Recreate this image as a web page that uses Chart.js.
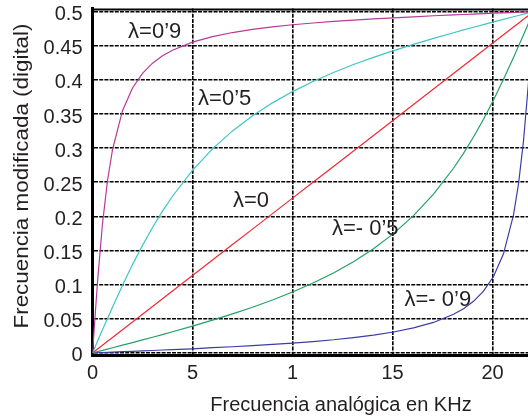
<!DOCTYPE html>
<html>
<head>
<meta charset="utf-8">
<script src="https://cdn.jsdelivr.net/npm/chart.js@4.4.1/dist/chart.umd.min.js"></script>
<style>
  html, body { margin: 0; padding: 0; background: #fff; overflow: hidden; }
  #wrap { width: 528px; height: 419px; overflow: hidden; }
  canvas { display: block; }
</style>
</head>
<body>
<div id="wrap"><canvas id="c" width="536" height="419"></canvas></div>
<script>
// Analog frequency axis (kHz)
const khz = [0, 0.25, 0.5, 0.75, 1, 1.5, 2, 2.5, 3, 3.5, 4, 5, 6, 7, 8, 9, 10, 11.025,
  12.05, 13.05, 14.05, 15.05, 16.05, 17.05, 18.05, 18.55, 19.05, 19.55, 20.05, 20.55, 21.05, 21.3, 21.55, 21.8, 22.05];

// Warped digital frequency for each lambda
const lambdaP09 = [0, 0.1039, 0.1895, 0.2526, 0.2978, 0.3548, 0.3881, 0.4095, 0.4244, 0.4352, 0.4434,
  0.4553, 0.4633, 0.4693, 0.4739, 0.4775, 0.4807, 0.4833, 0.4855, 0.4875, 0.4893, 0.4909, 0.4923,
  0.4939, 0.4951, 0.4957, 0.4964, 0.4970, 0.4976, 0.4982, 0.4988, 0.4991, 0.4994, 0.4997, 0.5];
const lambdaP05 = [0, 0.0170, 0.0339, 0.0506, 0.0671, 0.0991, 0.1294, 0.1576, 0.1838, 0.2077, 0.2295,
  0.2675, 0.2989, 0.3252, 0.3473, 0.3663, 0.3828, 0.3976, 0.4107, 0.4224, 0.4330, 0.4428, 0.4520,
  0.4607, 0.4690, 0.4731, 0.4770, 0.4809, 0.4848, 0.4886, 0.4924, 0.4943, 0.4962, 0.4981, 0.5];
const lambdaZero = [0, 0.0057, 0.0113, 0.0170, 0.0227, 0.0340, 0.0454, 0.0567, 0.0680, 0.0794, 0.0907,
  0.1134, 0.1361, 0.1587, 0.1814, 0.2041, 0.2268, 0.25, 0.2732, 0.2959, 0.3186, 0.3413, 0.3639,
  0.3866, 0.4093, 0.4206, 0.4320, 0.4433, 0.4546, 0.4660, 0.4773, 0.4830, 0.4887, 0.4943, 0.5];
const lambdaN05 = [0, 0.0019, 0.0038, 0.0057, 0.0076, 0.0114, 0.0152, 0.0191, 0.0230, 0.0269, 0.0310,
  0.0393, 0.0480, 0.0572, 0.0670, 0.0776, 0.0893, 0.1024, 0.1172, 0.1337, 0.1527, 0.1748, 0.2011,
  0.2325, 0.2705, 0.2923, 0.3162, 0.3424, 0.3706, 0.4009, 0.4329, 0.4494, 0.4661, 0.4830, 0.5];
const lambdaN09 = [0, 0.0003, 0.0006, 0.0009, 0.0012, 0.0018, 0.0024, 0.0030, 0.0036, 0.0043, 0.0049,
  0.0061, 0.0077, 0.0091, 0.0107, 0.0125, 0.0145, 0.0167, 0.0193, 0.0225, 0.0261, 0.0307, 0.0367,
  0.0447, 0.0566, 0.0648, 0.0756, 0.0905, 0.1119, 0.1452, 0.2022, 0.2474, 0.3105, 0.3961, 0.5];

// Tick values and their printed labels
const xTickValues = [0, 5, 10, 15, 20];
const xTickLabels = ['0', '5', '1', '15', '20'];
const yTickValues = [0, 0.05, 0.1, 0.15, 0.2, 0.25, 0.3, 0.35, 0.4, 0.45, 0.5];
const yTickLabels = ['0', '0.05', '0.1', '0.15', '0.2', '0.25', '0.3', '0.35', '0.4', '0.45', '0.5'];

// Curve captions, anchored in data units (left edge, baseline)
const curveLabels = [
  { text: 'λ=0’9',   at: [1.78, 0.462] },
  { text: 'λ=0’5',   at: [5.28, 0.3626] },
  { text: 'λ=0',     at: [7.02, 0.2135] },
  { text: 'λ=- 0’5', at: [11.97, 0.1725] },
  { text: 'λ=- 0’9', at: [15.6, 0.0692] }
];

const FONT = '"Liberation Sans", Arial, Helvetica, sans-serif';
const TEXT = '#231f20';

function series(values, color) {
  return {
    data: khz.map((f, i) => ({ x: f, y: values[i] })),
    borderColor: color,
    borderWidth: 1.2,
    pointRadius: 0,
    tension: 0,
    fill: false
  };
}

const decorations = {
  id: 'decorations',
  afterDraw(chart) {
    const { ctx, chartArea: a, scales: { x, y } } = chart;
    ctx.save();
    // top frame line
    ctx.strokeStyle = '#000';
    ctx.lineWidth = 2;
    ctx.beginPath();
    ctx.moveTo(a.left, a.top + 1);
    ctx.lineTo(a.right, a.top + 1);
    ctx.stroke();

    // curve captions
    ctx.fillStyle = TEXT;
    ctx.font = '22px ' + FONT;
    ctx.textAlign = 'left';
    ctx.textBaseline = 'alphabetic';
    curveLabels.forEach(l => {
      ctx.fillText(l.text, x.getPixelForValue(l.at[0]), y.getPixelForValue(l.at[1]));
    });

    // x axis title
    ctx.font = '20px ' + FONT;
    ctx.textAlign = 'center';
    ctx.fillText('Frecuencia analógica en KHz', 341, 411);

    // y axis title
    ctx.translate(22.5, 176);
    ctx.rotate(-Math.PI / 2);
    ctx.scale(1.12, 1);
    ctx.textBaseline = 'middle';
    ctx.fillText('Frecuencia modificada (digital)', 0, 0);
    ctx.restore();
  }
};

new Chart(document.getElementById('c'), {
  type: 'line',
  data: {
    datasets: [
      series(lambdaP09, '#b83a98'),
      series(lambdaP05, '#3fc6c6'),
      series(lambdaZero, '#f02a36'),
      series(lambdaN05, '#23a163'),
      series(lambdaN09, '#3c3ca6')
    ]
  },
  options: {
    responsive: false,
    animation: false,
    layout: { padding: { top: 8.5, right: 2.5, left: 0, bottom: 0 } },
    plugins: { legend: { display: false }, tooltip: { enabled: false } },
    scales: {
      x: {
        type: 'linear',
        min: 0,
        max: 22.05,
        afterBuildTicks: s => { s.ticks = xTickValues.map(v => ({ value: v })); },
        afterFit: s => { s.height = 64; s.paddingLeft = 0; s.paddingRight = 0; },
        ticks: {
          callback: (v, i) => xTickLabels[i],
          font: { family: FONT, size: 20 },
          color: TEXT,
          padding: 6,
          maxRotation: 0
        },
        grid: { color: '#000', lineWidth: 1.6, drawTicks: false },
        border: { display: true, color: '#000', width: 3, dash: [4, 1.2] }
      },
      y: {
        min: -0.003,
        max: 0.5045,
        afterBuildTicks: s => { s.ticks = yTickValues.map(v => ({ value: v })); },
        afterFit: s => { s.width = 92.5; s.paddingTop = 0; s.paddingBottom = 0; },
        ticks: {
          callback: (v, i) => yTickLabels[i],
          font: { family: FONT, size: 20 },
          color: TEXT,
          padding: 10,
          labelOffset: 3
        },
        grid: { color: '#000', lineWidth: 1.6, drawTicks: false },
        border: { display: true, color: '#000', width: 3, dash: [4, 1.2] }
      }
    }
  },
  plugins: [decorations]
});
</script>
</body>
</html>
